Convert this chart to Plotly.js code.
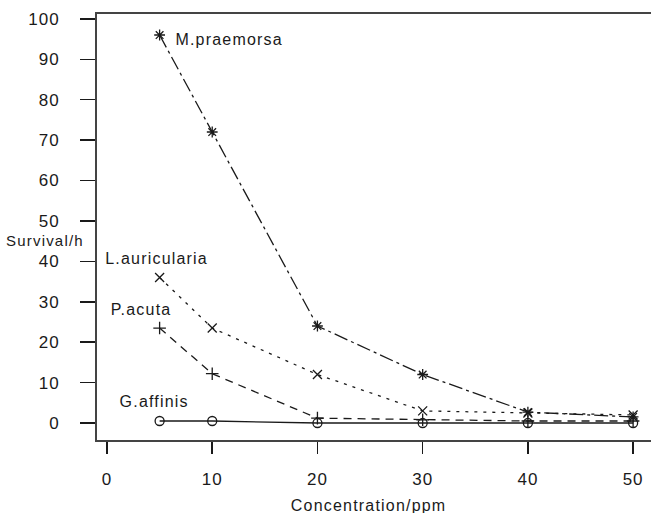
<!DOCTYPE html>
<html><head><meta charset="utf-8">
<script src="https://cdn.plot.ly/plotly-3.0.1.min.js"></script>
<style>body{margin:0;background:#fff}#c{width:651px;height:513px}#c text{letter-spacing:1px}#c .annotation-text{letter-spacing:1.2px}</style>
</head><body><div id="c"></div>
<script>
const conc = [5, 10, 20, 30, 40, 50];
const mPraemorsa = [96, 72, 24, 12, 2.7, 1.5];
const lAuricularia = [36, 23.5, 12, 3, 2.5, 2];
const pAcuta = [23.5, 12.2, 1.2, 0.8, 0.5, 0.5];
const gAffinis = [0.5, 0.5, 0, 0, 0, 0];
const seriesNames = ["M.praemorsa", "L.auricularia", "P.acuta", "G.affinis"];
const xTicks = [0, 10, 20, 30, 40, 50];
const yTicks = [0, 10, 20, 30, 40, 50, 60, 70, 80, 90, 100];

const F = "Liberation Sans, Arial, sans-serif";
const col = "#1a1a1a";
function tr(y, sym, dash, name) {
  return {x: conc, y: y, mode: "lines+markers", name: name,
    line: {color: col, width: 1.3, dash: dash},
    marker: {symbol: sym, size: 9, color: col, line: {color: col, width: 1.3}}};
}
const data = [
  tr(mPraemorsa, "asterisk-open", "14px,4px,3px,4px", seriesNames[0]),
  tr(lAuricularia, "x-thin-open", "3px,6px", seriesNames[1]),
  tr(pAcuta, "cross-thin-open", "8px,6px", seriesNames[2]),
  tr(gAffinis, "circle-open", "solid", seriesNames[3])
];
const lf = {family: F, size: 16, color: col};
const layout = {
  width: 651, height: 513, showlegend: false,
  margin: {l: 97, r: 0, t: 14, b: 73},
  paper_bgcolor: "#fff", plot_bgcolor: "#fff",
  font: {family: F, size: 17, color: col},
  xaxis: {range: [-0.95, 51.7], tickvals: xTicks, ticks: "outside", ticklen: 12, tickwidth: 1.5, tickcolor: col,
    ticklabelstandoff: 11,
    showgrid: false, zeroline: false, showline: true, linecolor: "#444", linewidth: 2, mirror: true,
    tickfont: {family: F, size: 17, color: col}},
  yaxis: {range: [-4.2, 101.2], tickvals: yTicks, ticks: "outside", ticklen: 15, tickwidth: 1.5, tickcolor: col,
    ticklabelstandoff: 17,
    showgrid: false, zeroline: false, showline: true, linecolor: "#444", linewidth: 2, mirror: true,
    tickfont: {family: F, size: 17, color: col}},
  annotations: [
    {x: 6.9, y: 94.8, xref: "x", yref: "y", text: seriesNames[0], showarrow: false, xanchor: "left", font: lf},
    {x: 0.35, y: 40.8, xref: "x", yref: "y", text: seriesNames[1], showarrow: false, xanchor: "left", font: lf},
    {x: 0.55, y: 28, xref: "x", yref: "y", text: seriesNames[2], showarrow: false, xanchor: "left", font: lf},
    {x: 1.55, y: 5.4, xref: "x", yref: "y", text: seriesNames[3], showarrow: false, xanchor: "left", font: lf},
    {x: -0.155, y: 0.468, xref: "paper", yref: "paper", text: "Survival/h", showarrow: false, xanchor: "left", yanchor: "middle", borderpad: 0, font: {family: F, size: 15, color: col}},
    {x: 0.49, y: -0.153, xref: "paper", yref: "paper", text: "Concentration/ppm", showarrow: false, xanchor: "center", yanchor: "middle", font: lf}
  ]
};
Plotly.newPlot("c", data, layout, {staticPlot: true, displayModeBar: false});
</script></body></html>
